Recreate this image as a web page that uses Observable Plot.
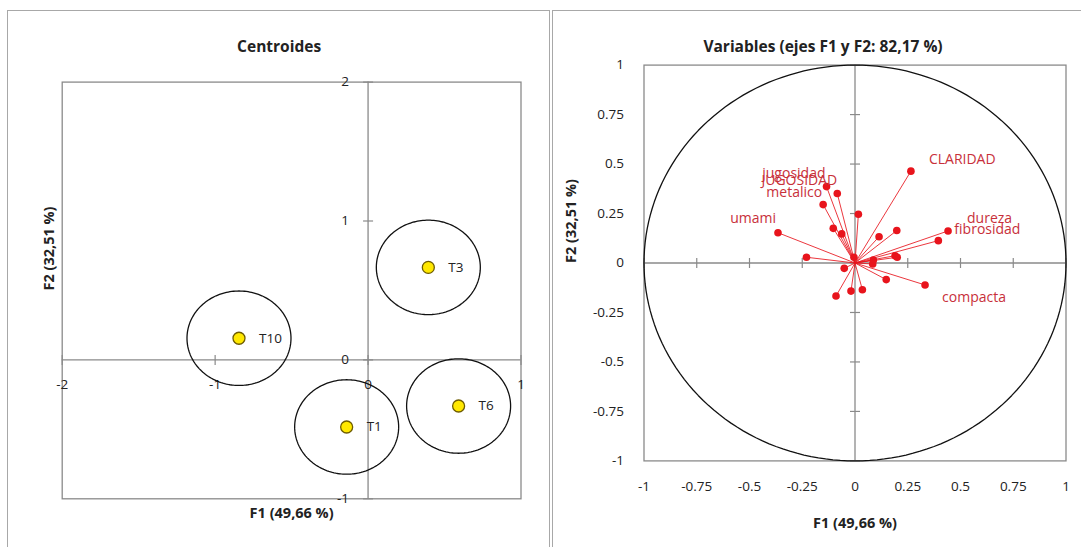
<!DOCTYPE html>
<html>
<head>
<meta charset="utf-8">
<script src="https://cdn.jsdelivr.net/npm/d3@7"></script>
<script src="https://cdn.jsdelivr.net/npm/@observablehq/plot@0.6"></script>
<style>
  html, body { margin: 0; padding: 0; background: #fff; width: 1081px; height: 547px; overflow: hidden; }
  .panel { position: absolute; box-sizing: border-box; border: 1.5px solid #a8a8a8; pointer-events: none; z-index: 2; }
  .chart { position: absolute; top: 0; }
</style>
</head>
<body>
<div class="panel" style="left:7px; top:10px; width:543px; height:545px;"></div>
<div class="panel" style="left:552px; top:10px; width:540px; height:545px;"></div>
<div id="left" class="chart" style="left:0px;"></div>
<div id="right" class="chart" style="left:550px;"></div>
<script>
// ---------- data: centroids ----------
const centroidNames = ["T1", "T3", "T6", "T10"];
const centroidF1 = [-0.14, 0.394, 0.592, -0.844];
const centroidF2 = [-0.483, 0.666, -0.332, 0.156];
const centroidRadius = 0.34;
const leftTicksX = [-2, -1, 0, 1];
const leftTicksY = [-1, 0, 1, 2];

// ---------- data: variables ----------
const varF1 = [0.265, 0.441, 0.395, -0.365, -0.135, -0.084, -0.151, 0.016, -0.103, -0.063, 0.114, 0.198,
               -0.230, 0.190, 0.200, 0.087, 0.084, -0.051, 0.148, 0.332, -0.090, -0.019, 0.035, -0.005];
const varF2 = [0.464, 0.162, 0.113, 0.153, 0.386, 0.351, 0.295, 0.246, 0.175, 0.147, 0.133, 0.164,
               0.029, 0.037, 0.029, 0.015, -0.005, -0.027, -0.084, -0.111, -0.167, -0.142, -0.135, 0.029];
const labelNames = ["CLARIDAD", "dureza", "fibrosidad", "umami", "jugosidad", "JUGOSIDAD", "metalico", "compacta"];
const labelPoint = [0, 1, 2, 3, 4, 5, 6, 19];
const rightTicks = [-1, -0.75, -0.5, -0.25, 0, 0.25, 0.5, 0.75, 1];

// ---------- helpers ----------
const font = "'Open Sans', 'Liberation Sans', sans-serif";
const axisGray = "#8a8a8a";
const vTick = {draw(ctx, size) { const r = Math.sqrt(size / Math.PI); ctx.moveTo(0, -r); ctx.lineTo(0, r); }};
const hTick = {draw(ctx, size) { const r = Math.sqrt(size / Math.PI); ctx.moveTo(-r, 0); ctx.lineTo(r, 0); }};
function ring(cx, cy, r, key) {
  const pts = [];
  for (let a = 0; a <= 360; a += 2) {
    const t = a * Math.PI / 180;
    pts.push({key, x: cx + r * Math.cos(t), y: cy + r * Math.sin(t)});
  }
  return pts;
}

// ---------- left chart: Centroides ----------
const centroids = centroidNames.map((n, i) => ({name: n, f1: centroidF1[i], f2: centroidF2[i]}));
const rings = centroids.flatMap(c => ring(c.f1, c.f2, centroidRadius, c.name));

const left = Plot.plot({
  width: 549, height: 547,
  marginLeft: 61.7, marginRight: 28.5, marginTop: 81.6, marginBottom: 48.7,
  style: {fontFamily: font, background: "transparent", overflow: "visible"},
  x: {domain: [-2, 1], axis: null},
  y: {domain: [-1, 2], axis: null},
  marks: [
    Plot.frame({stroke: axisGray, strokeWidth: 1.3}),
    Plot.ruleX([0], {stroke: axisGray, strokeWidth: 1.3}),
    Plot.ruleY([0], {stroke: axisGray, strokeWidth: 1.3}),
    Plot.dot(leftTicksX, {x: d => d, y: 0, symbol: vTick, r: 5, stroke: axisGray, fill: "none", strokeWidth: 1.2}),
    Plot.dot(leftTicksY, {x: 0, y: d => d, symbol: hTick, r: 5, stroke: axisGray, fill: "none", strokeWidth: 1.2}),
    Plot.text(leftTicksY, {x: 0, y: d => d, text: d => String(d), textAnchor: "end", dx: -19, fontSize: 13.5, fill: "#222"}),
    Plot.text(leftTicksX, {x: d => d, y: 0, text: d => String(d), dy: 25, fontSize: 13.5, fill: "#222"}),
    Plot.line(rings, {x: "x", y: "y", z: "key", stroke: "#111", strokeWidth: 1.3, curve: "linear"}),
    Plot.dot(centroids, {x: "f1", y: "f2", r: 6, fill: "#ffe800", stroke: "#6e5c00", strokeWidth: 1.3}),
    Plot.text(centroids, {x: "f1", y: "f2", text: "name", textAnchor: "start", dx: 20, fontSize: 13.5, fill: "#222"}),
    Plot.text(["Centroides"], {frameAnchor: "top", dx: -12.5, dy: -41.5, fontSize: 15.5, fontWeight: "bold", fill: "#222"}),
    Plot.text(["F1 (49,66 %)"], {frameAnchor: "bottom", dy: 19, fontSize: 14.5, fontWeight: "bold", fill: "#222"}),
    Plot.text(["F2 (32,51 %)"], {frameAnchor: "left", dx: -12.7, rotate: -90, fontSize: 14.5, fontWeight: "bold", fill: "#222"})
  ]
});
document.getElementById("left").append(left);

// ---------- right chart: Variables ----------
const vars = varF1.map((v, i) => ({f1: v, f2: varF2[i]}));
const labelOffsets = {
  CLARIDAD: [18, -12, "start"], dureza: [19, -12, "start"], fibrosidad: [16, -11, "start"],
  umami: [-2, -14, "end"], jugosidad: [-1, -13, "end"], JUGOSIDAD: [0, -13, "end"],
  metalico: [-1, -12, "end"], compacta: [17, 13, "start"]
};
const labels = labelNames.map((n, i) => ({name: n, f1: varF1[labelPoint[i]], f2: varF2[labelPoint[i]]}));
const unitRing = ring(0, 0, 1, "c");
const red = "#e8141c";

const right = Plot.plot({
  width: 531, height: 547,
  marginLeft: 93.5, marginRight: 15.5, marginTop: 64.6, marginBottom: 86.6,
  style: {fontFamily: font, background: "transparent", overflow: "visible"},
  x: {domain: [-1, 1], axis: null},
  y: {domain: [-1, 1], axis: null},
  marks: [
    Plot.frame({stroke: axisGray, strokeWidth: 1.3}),
    Plot.ruleX([0], {stroke: axisGray, strokeWidth: 1.3}),
    Plot.ruleY([0], {stroke: axisGray, strokeWidth: 1.3}),
    Plot.dot(rightTicks, {x: d => d, y: 0, symbol: vTick, r: 5, stroke: axisGray, fill: "none", strokeWidth: 1.2}),
    Plot.dot(rightTicks, {x: 0, y: d => d, symbol: hTick, r: 5, stroke: axisGray, fill: "none", strokeWidth: 1.2}),
    Plot.text(rightTicks, {frameAnchor: "left", y: d => d, text: d => String(d), textAnchor: "end", dx: -20, fontSize: 13.5, fill: "#222"}),
    Plot.text(rightTicks, {frameAnchor: "bottom", x: d => d, text: d => String(d), dy: 30, fontSize: 13.5, fill: "#222"}),
    Plot.line(unitRing, {x: "x", y: "y", stroke: "#111", strokeWidth: 1.3}),
    Plot.link(vars, {x1: 0, y1: 0, x2: "f1", y2: "f2", stroke: red, strokeWidth: 1, strokeOpacity: 0.85}),
    Plot.dot(vars, {x: "f1", y: "f2", r: 3.8, fill: red}),
    ...labelNames.map(n => Plot.text(labels.filter(l => l.name === n), {
      x: "f1", y: "f2", text: "name", dx: labelOffsets[n][0], dy: labelOffsets[n][1],
      textAnchor: labelOffsets[n][2], fontSize: 14, fill: "#c8303a"
    })),
    Plot.text(["Variables (ejes F1 y F2: 82,17 %)"], {frameAnchor: "top", dx: -32, dy: -24.6, fontSize: 15.5, fontWeight: "bold", fill: "#222"}),
    Plot.text(["F1 (49,66 %)"], {frameAnchor: "bottom", dy: 67.5, fontSize: 14.5, fontWeight: "bold", fill: "#222"}),
    Plot.text(["F2 (32,51 %)"], {frameAnchor: "left", dx: -72.5, rotate: -90, fontSize: 14.5, fontWeight: "bold", fill: "#222"})
  ]
});
document.getElementById("right").append(right);
</script>
</body>
</html>
